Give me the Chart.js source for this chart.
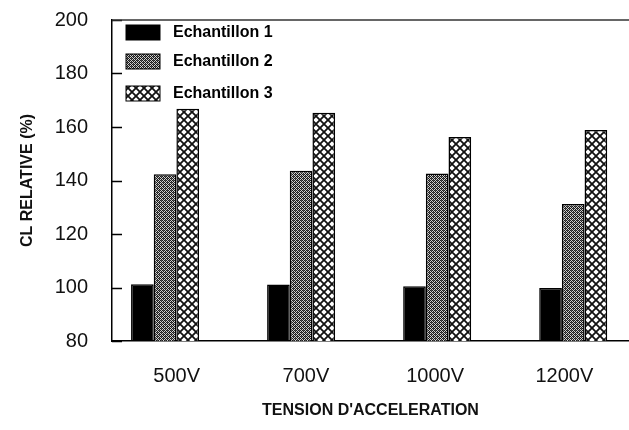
<!DOCTYPE html>
<html>
<head>
<meta charset="utf-8">
<script src="https://cdn.jsdelivr.net/npm/chart.js@4.4.0/dist/chart.umd.min.js"></script>
<style>
  html, body { margin: 0; padding: 0; background: #fff; }
  #wrap { width: 629px; height: 430px; position: relative; }
</style>
</head>
<body>
<div id="wrap"><canvas id="CLChart"></canvas></div>
<script>
const categories = ['500V', '700V', '1000V', '1200V'];
const seriesNames = ['Echantillon 1', 'Echantillon 2', 'Echantillon 3'];
const echantillon1 = [101.2, 101.1, 100.5, 99.8];
const echantillon2 = [142.3, 143.6, 142.6, 131.2];
const echantillon3 = [166.8, 165.3, 156.3, 158.9];
const yTicks = [80, 100, 120, 140, 160, 180, 200];

function makePattern(kind) {
    const c = document.createElement('canvas');
    const g = c.getContext('2d');
    if (kind === 'fine') {
        c.width = 4; c.height = 4;
        g.fillStyle = '#d0d0d0';
        g.fillRect(0, 0, 4, 4);
        g.fillStyle = '#1a1a1a';
        // small dense cross-hatch
        g.fillRect(0, 0, 1, 1); g.fillRect(2, 0, 1, 1);
        g.fillRect(1, 1, 1, 1); g.fillRect(3, 1, 1, 1);
        g.fillRect(0, 2, 1, 1); g.fillRect(2, 2, 1, 1);
        g.fillRect(1, 3, 1, 1); g.fillRect(3, 3, 1, 1);
        g.fillStyle = '#555';
        g.fillRect(1, 0, 1, 1);
        g.fillRect(3, 2, 1, 1);
    } else {
        c.width = 8; c.height = 8;
        g.fillStyle = '#ffffff';
        g.fillRect(0, 0, 8, 8);
        g.strokeStyle = '#111';
        g.lineWidth = 1.8;
        g.beginPath();
        g.moveTo(-1, -1); g.lineTo(9, 9);
        g.moveTo(-1, 9); g.lineTo(9, -1);
        g.stroke();
    }
    return g.createPattern(c, 'repeat');
}

const fills = ['#000000', makePattern('fine'), makePattern('coarse')];

function toPoints(values) {
    return values.map((v, i) => ({x: i, y: v}));
}

// inward y ticks + top frame line
const frameTicks = {
    id: 'frameTicks',
    afterDatasetsDraw(chart) {
        const ctx = chart.ctx;
        const area = chart.chartArea;
        const y = chart.scales.y;
        ctx.save();
        ctx.strokeStyle = '#000';
        ctx.lineWidth = 1.3;
        ctx.beginPath();
        yTicks.forEach(function(v) {
            const py = Math.round(y.getPixelForValue(v)) + 0.5;
            ctx.moveTo(area.left, py);
            ctx.lineTo(area.left + 10, py);
        });
        ctx.stroke();
        ctx.strokeStyle = '#333';
        ctx.lineWidth = 1.5;
        ctx.beginPath();
        ctx.moveTo(area.left, area.top);
        ctx.lineTo(area.right, area.top);
        ctx.stroke();
        ctx.restore();
    }
};

// legend drawn inside the plot, top-left
const insideLegend = {
    id: 'insideLegend',
    afterDraw(chart) {
        const ctx = chart.ctx;
        const rows = [32, 61, 93];
        ctx.save();
        chart.data.datasets.forEach(function(ds, i) {
            const y = rows[i];
            ctx.fillStyle = ds.backgroundColor;
            ctx.fillRect(126, y - 7, 34, 15);
            ctx.strokeStyle = '#000';
            ctx.lineWidth = 1;
            ctx.strokeRect(126, y - 7, 34, 15);
            ctx.fillStyle = '#000';
            ctx.font = 'bold 16px "Liberation Sans", Arial, sans-serif';
            ctx.textBaseline = 'middle';
            ctx.fillText(ds.label, 173, y + 1);
        });
        ctx.restore();
    }
};

document.addEventListener("DOMContentLoaded", function() {
    const ctx = document.getElementById('CLChart').getContext('2d');
    const axisFont = {family: '"Liberation Sans", Arial, sans-serif', size: 20};
    const titleFont = {family: '"Liberation Sans", Arial, sans-serif', size: 16, weight: 'bold'};
    new Chart(ctx, {
        type: 'bar',
        data: {
            labels: categories,
            datasets: [
                {label: seriesNames[0], data: toPoints(echantillon1), xAxisID: 'xb', backgroundColor: fills[0], borderColor: '#000', borderWidth: 1.5},
                {label: seriesNames[1], data: toPoints(echantillon2), xAxisID: 'xb', backgroundColor: fills[1], borderColor: '#000', borderWidth: 1.5},
                {label: seriesNames[2], data: toPoints(echantillon3), xAxisID: 'xb', backgroundColor: fills[2], borderColor: '#000', borderWidth: 1.5}
            ]
        },
        options: {
            responsive: true,
            maintainAspectRatio: false,
            animation: false,
            layout: {padding: {top: 20, right: 0, bottom: 0, left: 0}},
            plugins: {
                legend: {display: false},
                tooltip: {enabled: false}
            },
            datasets: {
                bar: {categoryPercentage: 0.5, barPercentage: 1.0}
            },
            scales: {
                y: {
                    min: 80,
                    max: 200,
                    afterBuildTicks: function(scale) {
                        scale.ticks = yTicks.map(v => ({value: v}));
                    },
                    afterFit: function(scale) {
                        scale.width = 112;
                        scale.paddingTop = 12;
                        scale.paddingBottom = 12;
                    },
                    grid: {drawOnChartArea: false, drawTicks: false},
                    border: {display: true, color: '#000', width: 1.5},
                    ticks: {color: '#111', font: axisFont, padding: 24},
                    title: {
                        display: true,
                        text: 'CL RELATIVE (%)',
                        color: '#111',
                        font: titleFont,
                        padding: {top: 18, bottom: 18}
                    }
                },
                // hidden positional axis for the bar groups
                xb: {
                    type: 'linear',
                    position: 'bottom',
                    display: false,
                    offset: false,
                    grid: {offset: false},
                    min: -0.39,
                    max: 3.41,
                    afterBuildTicks: function(scale) {
                        scale.ticks = categories.map((c, i) => ({value: i}));
                    }
                },
                x: {
                    type: 'category',
                    position: 'bottom',
                    afterFit: function(scale) { scale.height = 89; },
                    grid: {display: false, drawTicks: false},
                    border: {display: true, color: '#000', width: 1.5},
                    ticks: {color: '#111', font: axisFont, padding: 23},
                    title: {
                        display: true,
                        text: "TENSION D'ACCELERATION",
                        color: '#111',
                        font: titleFont,
                        padding: {top: 12, bottom: 10}
                    }
                }
            }
        },
        plugins: [frameTicks, insideLegend]
    });
});
</script>
</body>
</html>
